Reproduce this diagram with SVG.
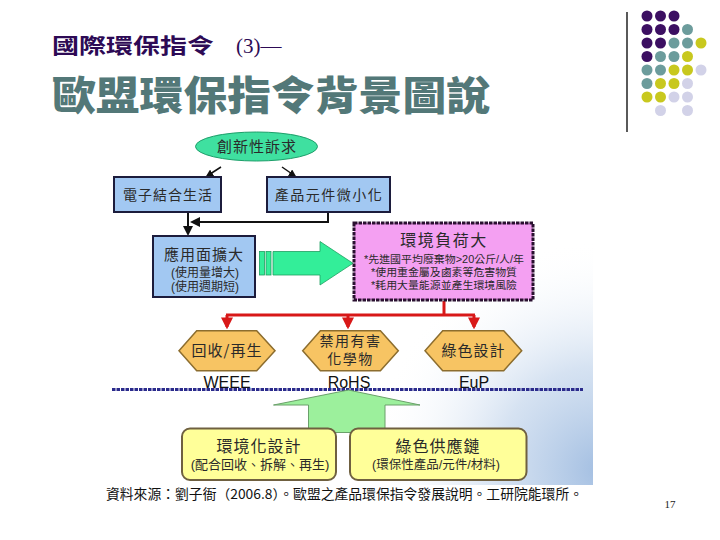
<svg xmlns="http://www.w3.org/2000/svg" width="720" height="540" viewBox="0 0 720 540">
<defs>
<style>
.cjk{font-family:"Noto Sans CJK TC","Noto Sans CJK SC",sans-serif;fill:#2a2a2a;text-anchor:middle}
.tight{font-family:"Liberation Sans","Noto Sans CJK TC","Noto Sans CJK SC",sans-serif}
.blue{fill:#a2c8f2;stroke:#1c1c3c;stroke-width:2}
.hex{fill:#f7c463;stroke:#8c6d2e;stroke-width:1.5}
.ybox{fill:#ffff99;stroke:#6f6040;stroke-width:2}
.lab{font-family:"Liberation Sans",Arial,sans-serif;font-size:16px;fill:#111;text-anchor:middle}
.red{stroke:#d81818;stroke-width:3;fill:none}
</style>
<marker id="ab" viewBox="0 0 10 10" refX="8" refY="5" markerWidth="5" markerHeight="5" orient="auto"><path d="M0,0 L10,5 L0,10 z" fill="#111"/></marker>
<marker id="ar" viewBox="0 0 10 10" refX="8" refY="5" markerWidth="4" markerHeight="4" orient="auto"><path d="M0,0 L10,5 L0,10 z" fill="#d81818"/></marker>
<radialGradient id="bg" gradientUnits="userSpaceOnUse" cx="600" cy="470" r="230">
<stop offset="0" stop-color="#9ebbe0" stop-opacity="0.95"/>
<stop offset="0.45" stop-color="#c4d6ec" stop-opacity="0.7"/>
<stop offset="1" stop-color="#ffffff" stop-opacity="0"/>
</radialGradient>
</defs>
<rect width="720" height="540" fill="#fff"/>
<!-- diagram background -->
<rect x="110" y="125" width="483" height="360" fill="url(#bg)"/>

<!-- titles -->
<g id="title">
<text x="52" y="53" font-family="Noto Sans CJK TC,sans-serif" font-weight="bold" font-size="21" fill="#2d0a55" textLength="162" lengthAdjust="spacingAndGlyphs">國際環保指令</text>
<text x="236" y="53" font-family="Liberation Serif,serif" font-size="21" fill="#2d0a55">(3)—</text>
<text x="52" y="110" font-family="Noto Sans CJK TC,sans-serif" font-weight="900" font-size="40" fill="#537878" textLength="438" lengthAdjust="spacingAndGlyphs">歐盟環保指令背景圖說</text>
</g>

<!-- decoration -->
<g id="dots">
<line x1="627" y1="12" x2="627" y2="132" stroke="#000" stroke-width="1.3"/>
<g fill="#3c0f62">
<circle cx="647" cy="16" r="5.5"/><circle cx="660.5" cy="16" r="5.5"/><circle cx="674" cy="16" r="5.5"/>
<circle cx="647" cy="29.5" r="5.5"/><circle cx="660.5" cy="29.5" r="5.5"/><circle cx="674" cy="29.5" r="5.5"/>
<circle cx="647" cy="43" r="5.5"/><circle cx="660.5" cy="43" r="5.5"/>
<circle cx="647" cy="56.5" r="5.5"/>
</g>
<g fill="#6c9c9c">
<circle cx="687.5" cy="29.5" r="5.5"/>
<circle cx="674" cy="43" r="5.5"/><circle cx="687.5" cy="43" r="5.5"/>
<circle cx="660.5" cy="56.5" r="5.5"/><circle cx="674" cy="56.5" r="5.5"/>
<circle cx="647" cy="70" r="5.5"/><circle cx="660.5" cy="70" r="5.5"/>
<circle cx="647" cy="83.5" r="5.5"/>
</g>
<g fill="#c8c81e">
<circle cx="701" cy="43" r="5.5"/>
<circle cx="687.5" cy="56.5" r="5.5"/>
<circle cx="674" cy="70" r="5.5"/><circle cx="687.5" cy="70" r="5.5"/>
<circle cx="660.5" cy="83.5" r="5.5"/><circle cx="674" cy="83.5" r="5.5"/>
<circle cx="647" cy="97" r="5.5"/><circle cx="660.5" cy="97" r="5.5"/>
</g>
<g fill="#d2d2e8">
<circle cx="701" cy="70" r="5.5"/>
<circle cx="687.5" cy="83.5" r="5.5"/>
<circle cx="674" cy="97" r="5.5"/><circle cx="687.5" cy="97" r="5.5"/>
<circle cx="660.5" cy="110.5" r="5.5"/><circle cx="687.5" cy="110.5" r="5.5"/>
</g>
</g>

<!-- connectors -->
<g id="connectors">
<line x1="221" y1="167" x2="207" y2="176" stroke="#111" stroke-width="1.5" marker-end="url(#ab)"/>
<line x1="282" y1="167" x2="295" y2="176" stroke="#111" stroke-width="1.5" marker-end="url(#ab)"/>
<polyline points="328,212 328,222 192,222" fill="none" stroke="#111" stroke-width="2" marker-end="url(#ab)"/>
<line x1="188" y1="212" x2="188" y2="234" stroke="#111" stroke-width="2" marker-end="url(#ab)"/>
<line x1="444" y1="301" x2="444" y2="315" class="red"/>
<line x1="226" y1="315" x2="475" y2="315" class="red"/>
<line x1="227" y1="315" x2="227" y2="327" class="red" marker-end="url(#ar)"/>
<line x1="348" y1="315" x2="348" y2="327" class="red" marker-end="url(#ar)"/>
<line x1="474" y1="315" x2="474" y2="327" class="red" marker-end="url(#ar)"/>
<!-- big green arrow -->
<rect x="259.5" y="251.5" width="5" height="23.5" fill="#33ee99" stroke="#1e9e60" stroke-width="0.8"/>
<rect x="266" y="251.5" width="5" height="23.5" fill="#33ee99" stroke="#1e9e60" stroke-width="0.8"/>
<path d="M273,251.5 H320 V241.5 L353,263.3 L320,285 V275 H273 Z" fill="#33ee99" stroke="#1e9e60" stroke-width="0.8"/>
<!-- dotted separator -->
<line x1="112" y1="389.5" x2="583" y2="389.5" stroke="#2b2b8c" stroke-width="3" stroke-dasharray="3.5 1"/>
<!-- up arrow -->
<path d="M348.5,390 L420,405 H385 V432.5 H308.5 V405 H273.5 Z" fill="#9cf09c" stroke="#6aa06a" stroke-width="1"/>
</g>

<!-- nodes -->
<g id="n-innovation">
<ellipse cx="256.5" cy="146.5" rx="61" ry="14.5" fill="#3fe0a0" stroke="#1e9e6a" stroke-width="1"/>
<text class="cjk" x="257" y="152" font-size="15" letter-spacing="1">創新性訴求</text>
</g>
<g id="n-life">
<rect class="blue" x="114" y="177" width="107" height="35"/>
<text class="cjk" x="168" y="200" font-size="14" letter-spacing="1">電子結合生活</text>
</g>
<g id="n-mini">
<rect class="blue" x="267" y="177" width="123" height="35"/>
<text class="cjk" x="329" y="200" font-size="14" letter-spacing="1.5">產品元件微小化</text>
</g>
<g id="n-expand">
<rect class="blue" x="153" y="236" width="102" height="61"/>
<text class="cjk tight" x="204" y="260" font-size="15" letter-spacing="1">應用面擴大</text>
<text class="cjk tight" x="205" y="277" font-size="12">(使用量增大)</text>
<text class="cjk tight" x="205" y="291" font-size="12">(使用週期短)</text>
</g>
<g id="n-load">
<rect x="354" y="223" width="179" height="77" fill="#f4a0f2" stroke="#2a1030" stroke-width="3" stroke-dasharray="3.5 1"/>
<text class="cjk tight" x="444" y="246" font-size="16" letter-spacing="1.5">環境負荷大</text>
<text class="cjk tight" x="444" y="263" font-size="10.5" textLength="160" lengthAdjust="spacingAndGlyphs">*先進國平均廢棄物&gt;20公斤/人/年</text>
<text class="cjk tight" x="444" y="276" font-size="10.5" textLength="146" lengthAdjust="spacingAndGlyphs">*使用重金屬及鹵素等危害物質</text>
<text class="cjk tight" x="444" y="289" font-size="10.5" textLength="146" lengthAdjust="spacingAndGlyphs">*耗用大量能源並產生環境風險</text>
</g>
<g id="n-weee">
<polygon class="hex" points="179,350.7 196.7,330.7 256.7,330.7 275,350.7 256.7,370.7 196.7,370.7"/>
<text class="cjk" x="227" y="356" font-size="15" letter-spacing="1">回收/再生</text>
<text class="lab" x="227" y="388">WEEE</text>
</g>
<g id="n-rohs">
<polygon class="hex" points="302.7,350.7 320.4,330.7 380.4,330.7 398.3,350.7 380.4,370.7 320.4,370.7"/>
<text class="cjk tight" x="350.5" y="346" font-size="14" letter-spacing="1.5">禁用有害</text>
<text class="cjk tight" x="350.5" y="364" font-size="14" letter-spacing="1.5">化學物</text>
<text class="lab" x="349" y="388">RoHS</text>
</g>
<g id="n-eup">
<polygon class="hex" points="425,350.7 442.7,330.7 503.7,330.7 521.7,350.7 503.7,370.7 442.7,370.7"/>
<text class="cjk" x="473.5" y="356" font-size="15" letter-spacing="1">綠色設計</text>
<text class="lab" x="474" y="388">EuP</text>
</g>
<g id="n-ecodesign">
<rect class="ybox" x="182" y="428.5" width="154" height="51.5" rx="8"/>
<text class="cjk tight" x="259" y="452" font-size="16" letter-spacing="1">環境化設計</text>
<text class="cjk tight" x="260" y="469" font-size="13">(配合回收、拆解、再生)</text>
</g>
<g id="n-greensupply">
<rect class="ybox" x="350" y="428.5" width="176.5" height="51.5" rx="8"/>
<text class="cjk tight" x="438" y="452" font-size="16" letter-spacing="1">綠色供應鏈</text>
<text class="cjk tight" x="436" y="469" font-size="12.5">(環保性產品/元件/材料)</text>
</g>

<text x="106" y="499" font-family="Noto Sans CJK TC,sans-serif" font-size="13.5" fill="#111" textLength="477" lengthAdjust="spacingAndGlyphs">資料來源：劉子衙（2006.8）。歐盟之產品環保指令發展說明。工研院能環所。</text>
<text x="670" y="508" font-family="Liberation Serif,serif" font-size="11" fill="#222" text-anchor="middle">17</text>
</svg>
